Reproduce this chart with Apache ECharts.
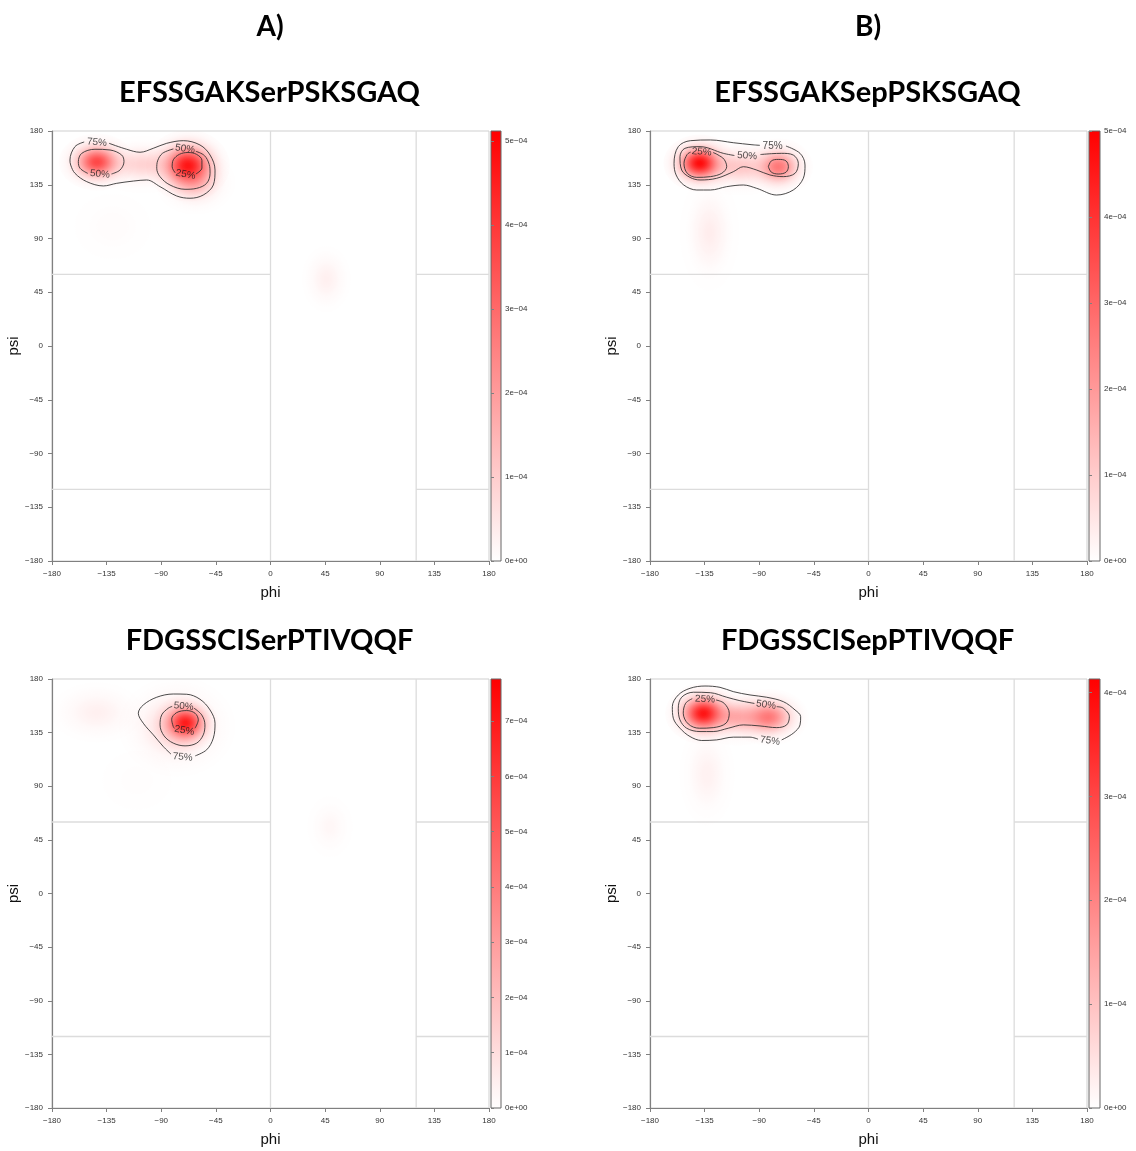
<!DOCTYPE html>
<html>
<head>
<meta charset="utf-8">
<script src="https://cdn.jsdelivr.net/npm/echarts@6/dist/echarts.min.js"></script>
<style>
  html, body { margin: 0; padding: 0; background: #fff; }
  #chart { width: 1136px; height: 1151px; }
</style>
</head>
<body>
<div id="chart"></div>
<script>
// ---- shared axis values ----
const angleTicks = [-180, -135, -90, -45, 0, 45, 90, 135, 180];
const columnLabels = ['A)', 'B)'];
const panelTitles = ['EFSSGAKSerPSKSGAQ', 'EFSSGAKSepPSKSGAQ', 'FDGSSCISerPTIVQQF', 'FDGSSCISepPTIVQQF'];

// colour-bar range and ticks per panel (density units)
const densityMax = [5.12e-4, 5.0e-4, 7.76e-4, 4.13e-4];
const colorbarTicks = [
  [0, 1e-4, 2e-4, 3e-4, 4e-4, 5e-4],
  [0, 1e-4, 2e-4, 3e-4, 4e-4, 5e-4],
  [0, 1e-4, 2e-4, 3e-4, 4e-4, 5e-4, 6e-4, 7e-4],
  [0, 1e-4, 2e-4, 3e-4, 4e-4]
];

// Ramachandran region boundaries: [phi, psi] segments
const regionBoundaries = [
  [[0, -180], [0, 180]],
  [[120, -180], [120, 180]],
  [[-180, 60], [0, 60]],
  [[120, 60], [180, 60]],
  [[-180, -120], [0, -120]],
  [[120, -120], [180, -120]]
];

// density modes: [phi, psi, peak density, spread phi, spread psi]
const modesSerE = [
  [-68, 151, 4.7e-4, 11.5, 10],
  [-62, 137, 1.1e-4, 11, 9],
  [-143, 154, 3.7e-4, 10.5, 8],
  [-105, 152, 0.9e-4, 15, 8],
  [46, 56, 0.3e-4, 8, 11],
  [-130, 100, 0.07e-4, 16, 14]
];
const modesSepE = [
  [-139, 153, 4.8e-4, 10, 8],
  [-74, 150, 2.6e-4, 9.5, 8],
  [-106, 150, 1.1e-4, 15, 8],
  [-131, 95, 0.35e-4, 9, 18]
];
const modesSerF = [
  [-70, 143, 6.8e-4, 9, 8],
  [-77, 140, 1.5e-4, 16, 14],
  [-143, 152, 0.45e-4, 15, 10],
  [49, 56, 0.25e-4, 8, 11],
  [-110, 95, 0.07e-4, 16, 14]
];
const modesSepF = [
  [-136, 151, 3.8e-4, 10.5, 8.5],
  [-82, 148, 2.1e-4, 11, 8],
  [-108, 148, 1.3e-4, 13, 8],
  [-133, 100, 0.22e-4, 9, 17]
];

// contour paths [phi, psi]; open ends leave room for the level label
const contourSerE75 = [[-133, 169.7], [-118.5, 164.7], [-107.5, 162.2], [-96.6, 165.5], [-85.5, 169.7], [-71.8, 171.9], [-58.1, 168.3], [-49.8, 159.9], [-45.7, 147.3], [-47.1, 134.8], [-55.4, 126.4], [-66.3, 123.7], [-77.3, 125.6], [-91.0, 133.4], [-102.0, 139.0], [-113.0, 138.1], [-126.7, 136.2], [-137.7, 134.0], [-151.4, 137.6], [-161.1, 144.6], [-164.6, 151.5], [-165.2, 155.7], [-161.1, 166.9], [-153.5, 170.8]];
const contourSerE50a = [[-131, 144], [-124.0, 147.3], [-120.7, 154.3], [-122.6, 159.9], [-132.2, 164.1], [-144.6, 164.7], [-155.5, 161.3], [-158.3, 154.3], [-156.9, 148.8], [-150.5, 144.5]];
const contourSerE50b = [[-61.5, 163.0], [-54.5, 159.5], [-50.5, 152], [-49.8, 144.6], [-52.6, 136.2], [-60.8, 132.0], [-70.4, 131.2], [-82.8, 134.8], [-91.0, 141.7], [-93.7, 148.8], [-93.0, 155], [-89, 161.3], [-80, 165.0]];
const contourSerE25 = [[-61.5, 144], [-56.5, 149], [-56.5, 155.5], [-61, 160.5], [-68, 162], [-75, 160.5], [-80, 156], [-81, 150], [-78.5, 145]];
const labelsSerE = [[-143, 170.5, '75%', -5], [-140.5, 143.8, '50%', -5], [-70.4, 165, '50%', -8], [-70, 143.5, '25%', -10]];

const contourSepE75 = [[-68, 167.4], [-56.4, 161.3], [-52.3, 151.5], [-53.7, 140.4], [-62.0, 130.6], [-75.7, 126.4], [-92.1, 132.0], [-103.1, 134.8], [-116.8, 133.4], [-130.2, 130.6], [-141.5, 130.6], [-152.2, 134.8], [-158.5, 143.2], [-160.2, 152.9], [-156.7, 166.9], [-146.7, 171.9], [-130.2, 172.5], [-111.4, 170.2], [-96, 168.5], [-89.5, 168]];
const contourSepE50 = [[-89, 160.3], [-80, 161], [-71.6, 161.3], [-62.0, 159.9], [-57.8, 152.9], [-60.5, 144.6], [-70.2, 141.8], [-81.2, 143.2], [-92.1, 147.3], [-103.1, 150.1], [-111.4, 145.9], [-125.1, 140.4], [-138.8, 139.0], [-147.1, 141.2], [-153.9, 147.3], [-155.3, 158.5], [-151.2, 165.5], [-138.8, 166.9], [-119.6, 161.3], [-110.5, 159.5]];
const contourSepE25a = [[-128, 162], [-124, 160], [-119, 156.3], [-116.8, 150.1], [-120.9, 144.6], [-130.2, 141.8], [-141.5, 141.2], [-149.3, 144.6], [-152.0, 152.9], [-149.3, 160.5], [-146.5, 162.3]];
const contourSepE25b = [[-82.5, 150.1], [-80, 155], [-74.3, 156.2], [-68, 155], [-66, 150.1], [-68, 145.5], [-74.3, 144], [-80, 145.5], [-82.5, 150.1]];
const labelsSepE = [[-79, 167.4, '75%', 0], [-100, 159.2, '50%', -3], [-137.4, 162.4, '25%', -5]];

const contourSerF75 = [[-62, 115.5], [-52.6, 120.6], [-47.1, 130.4], [-45.7, 142.9], [-49.8, 154.0], [-58.1, 163.0], [-69.0, 167.2], [-80.1, 167.4], [-93.7, 164.7], [-104.8, 158.2], [-108.9, 151.3], [-104.8, 142.9], [-96.5, 133.1], [-88.3, 123.3], [-82, 117]];
const contourSerF50 = [[-63, 155.5], [-56.7, 149.9], [-54.0, 141.5], [-55.4, 133.1], [-60.8, 126.2], [-70.4, 123.9], [-80.1, 126.2], [-87.7, 132.3], [-91.0, 141.5], [-89.6, 149.9], [-84.2, 155.5], [-81, 157]];
const contourSerF25 = [[-62.2, 138.7], [-59.5, 145.7], [-62.2, 151.3], [-69.0, 153.5], [-77.3, 151.8], [-81.4, 146.3], [-80.1, 140.1], [-79, 138.5]];
const labelsSerF = [[-72.3, 114.5, '75%', -5], [-71.6, 157, '50%', -5], [-71, 136.7, '25%', -10]];

const contourSepF75 = [[-71.5, 128.9], [-62.0, 134.5], [-56.4, 141.5], [-55.9, 148.4], [-60.5, 154.0], [-70.2, 161.0], [-83.9, 164.7], [-97.6, 166.6], [-111.4, 169.4], [-122.3, 173.0], [-134.7, 174.1], [-147.0, 172.2], [-156.7, 166.6], [-161.6, 156.8], [-160.8, 147.1], [-155.3, 138.7], [-147.0, 131.7], [-137.4, 128.4], [-125.1, 128.9], [-111.4, 131.2], [-97.6, 131.2], [-91, 129.5]];
const contourSepF50 = [[-75.6, 156.8], [-70.2, 155.5], [-65.2, 148.4], [-67.4, 141.5], [-75.6, 139.2], [-89.4, 140.6], [-103.1, 141.5], [-115.5, 138.7], [-127.9, 135.9], [-138.8, 135.9], [-149.8, 138.7], [-155.3, 145.7], [-156.7, 155.5], [-153.9, 164.7], [-144.3, 168.9], [-130.2, 168.5], [-116.8, 164.7], [-105.9, 161.8], [-94, 159.5]];
const contourSepF25 = [[-125.6, 162.4], [-119.0, 159.7], [-114.7, 151.3], [-117.4, 142.9], [-127.9, 139.2], [-139.4, 138.7], [-148.5, 142.3], [-152.6, 151.3], [-150.6, 159.7], [-145.2, 163.5]];
const labelsSepF = [[-81.2, 128.1, '75%', -8], [-84.4, 158.2, '50%', -8], [-134.7, 163, '25%', -3]];

// ---- panel assembly ----
const panels = [
  { modes: modesSerE, contours: [contourSerE75, contourSerE50a, contourSerE50b, contourSerE25], labels: labelsSerE },
  { modes: modesSepE, contours: [contourSepE75, contourSepE50, contourSepE25a, contourSepE25b], labels: labelsSepE },
  { modes: modesSerF, contours: [contourSerF75, contourSerF50, contourSerF25], labels: labelsSerF },
  { modes: modesSepF, contours: [contourSepF75, contourSepF50, contourSepF25], labels: labelsSepF }
];

// screen layout of each panel
const layout = [
  { left: 52, top: 131, width: 437, height: 430, cbLeft: 491, cbWidth: 10 },
  { left: 650, top: 131, width: 437, height: 430, cbLeft: 1089, cbWidth: 11 },
  { left: 52, top: 679, width: 437, height: 429, cbLeft: 491, cbWidth: 10 },
  { left: 650, top: 679, width: 437, height: 429, cbLeft: 1089, cbWidth: 11 }
];

const AXIS_FONT = '"Liberation Sans", Arial, sans-serif';
const TITLE_FONT = 'Lato, "Open Sans", sans-serif';

function angleLabel(v) {
  return v < 0 ? '\u2212' + (-v) : String(v);
}
function sciLabel(v) {
  if (v === 0) return '0e+00';
  const e = Math.floor(Math.log10(v) + 1e-9);
  const m = Math.round(v / Math.pow(10, e));
  return m + 'e' + (e < 0 ? '\u2212' : '+') + String(Math.abs(e)).padStart(2, '0');
}

// gaussian-looking radial fill for one density mode
function blobRenderer(vmax) {
  return function (params, api) {
    const c = api.coord([api.value(0), api.value(1)]);
    const s = api.size([api.value(3), api.value(4)]);
    const a = Math.min(1, api.value(2) / vmax);
    const R = 100;
    const stops = [];
    for (let i = 0; i <= 16; i++) {
      const t = i / 16;
      const z = 3 * t;
      stops.push({ offset: t, color: 'rgba(255,0,0,' + (a * Math.exp(-z * z / 2)).toFixed(4) + ')' });
    }
    return {
      type: 'circle',
      x: c[0], y: c[1],
      scaleX: 3 * s[0] / R, scaleY: 3 * s[1] / R,
      shape: { cx: 0, cy: 0, r: R },
      style: { fill: { type: 'radial', x: 0.5, y: 0.5, r: 0.5, colorStops: stops } }
    };
  };
}

const grid = [], xAxis = [], yAxis = [], series = [];

panels.forEach((p, i) => {
  const L = layout[i];
  const g = 2 * i, cb = 2 * i + 1;
  const vmax = densityMax[i];

  grid.push({ left: L.left, top: L.top, width: L.width, height: L.height, show: true,
    borderColor: '#cfcfcf', borderWidth: 1, backgroundColor: '#ffffff' });
  grid.push({ left: L.cbLeft, top: L.top, width: L.cbWidth, height: L.height, show: true,
    borderColor: '#666', borderWidth: 1,
    backgroundColor: { type: 'linear', x: 0, y: 0, x2: 0, y2: 1,
      colorStops: [{ offset: 0, color: 'rgb(255,0,0)' }, { offset: 1, color: 'rgb(255,255,255)' }] } });

  const axisCommon = {
    type: 'value', min: -180, max: 180, interval: 45,
    nameLocation: 'middle',
    nameTextStyle: { fontSize: 15, color: '#111', fontFamily: AXIS_FONT },
    axisLine: { show: true, onZero: false, lineStyle: { color: '#808080', width: 1.2 } },
    axisTick: { show: true, length: 4, lineStyle: { color: '#808080' } },
    axisLabel: { fontSize: 8, color: '#333', margin: 9, fontFamily: AXIS_FONT, formatter: angleLabel,
      showMinLabel: true, showMaxLabel: true },
    splitLine: { show: false }
  };
  xAxis.push(Object.assign({}, axisCommon, { gridIndex: g, name: 'phi', nameGap: 24 }));
  yAxis.push(Object.assign({}, axisCommon, { gridIndex: g, name: 'psi', nameGap: 26 }));

  xAxis.push({ gridIndex: cb, type: 'value', min: 0, max: 1, show: false });
  yAxis.push({ gridIndex: cb, type: 'value', position: 'right', min: 0, max: vmax,
    axisLine: { show: false },
    axisTick: { show: true, length: 3, customValues: colorbarTicks[i], lineStyle: { color: '#808080' } },
    axisLabel: { fontSize: 8, color: '#333', margin: 4, fontFamily: AXIS_FONT, formatter: sciLabel,
      customValues: colorbarTicks[i] },
    splitLine: { show: false } });

  // region boundaries
  regionBoundaries.forEach(seg => {
    series.push({ type: 'line', xAxisIndex: g, yAxisIndex: g, data: seg, symbol: 'none', silent: true, z: 1,
      lineStyle: { color: '#dcdcdc', width: 1.3 } });
  });

  // density surface
  series.push({ type: 'custom', xAxisIndex: g, yAxisIndex: g, data: p.modes, clip: true, silent: true, z: 2,
    renderItem: blobRenderer(vmax) });

  // contour lines
  p.contours.forEach(path => {
    series.push({ type: 'line', xAxisIndex: g, yAxisIndex: g, data: path, symbol: 'none', smooth: 0.35,
      silent: true, z: 3, lineStyle: { color: '#2a2a2a', width: 0.85 } });
  });

  // contour level labels
  series.push({ type: 'scatter', xAxisIndex: g, yAxisIndex: g, symbolSize: 1, silent: true, z: 4,
    itemStyle: { color: 'rgba(0,0,0,0)' },
    data: p.labels.map(l => ({ value: [l[0], l[1]], name: l[2], label: { rotate: l[3] } })),
    label: { show: true, position: 'inside', formatter: q => q.name, fontSize: 10, color: '#1a1a1a',
      fontFamily: AXIS_FONT } });
});

// headings
const graphic = [];
columnLabels.forEach((t, c) => {
  graphic.push({ type: 'text', x: c === 0 ? 270 : 868, y: 27,
    style: { text: t, align: 'center', verticalAlign: 'middle', font: 'bold 28px ' + TITLE_FONT, fill: '#000' } });
});
panelTitles.forEach((t, i) => {
  const L = layout[i];
  graphic.push({ type: 'text', x: L.left + L.width / 2 - 1, y: i < 2 ? 93 : 641,
    style: { text: t, align: 'center', verticalAlign: 'middle', font: 'bold 29px ' + TITLE_FONT, fill: '#000' } });
});

const chart = echarts.init(document.getElementById('chart'), null, { renderer: 'canvas' });
chart.setOption({
  animation: false,
  backgroundColor: '#fff',
  grid, xAxis, yAxis, series, graphic
});
</script>
</body>
</html>
